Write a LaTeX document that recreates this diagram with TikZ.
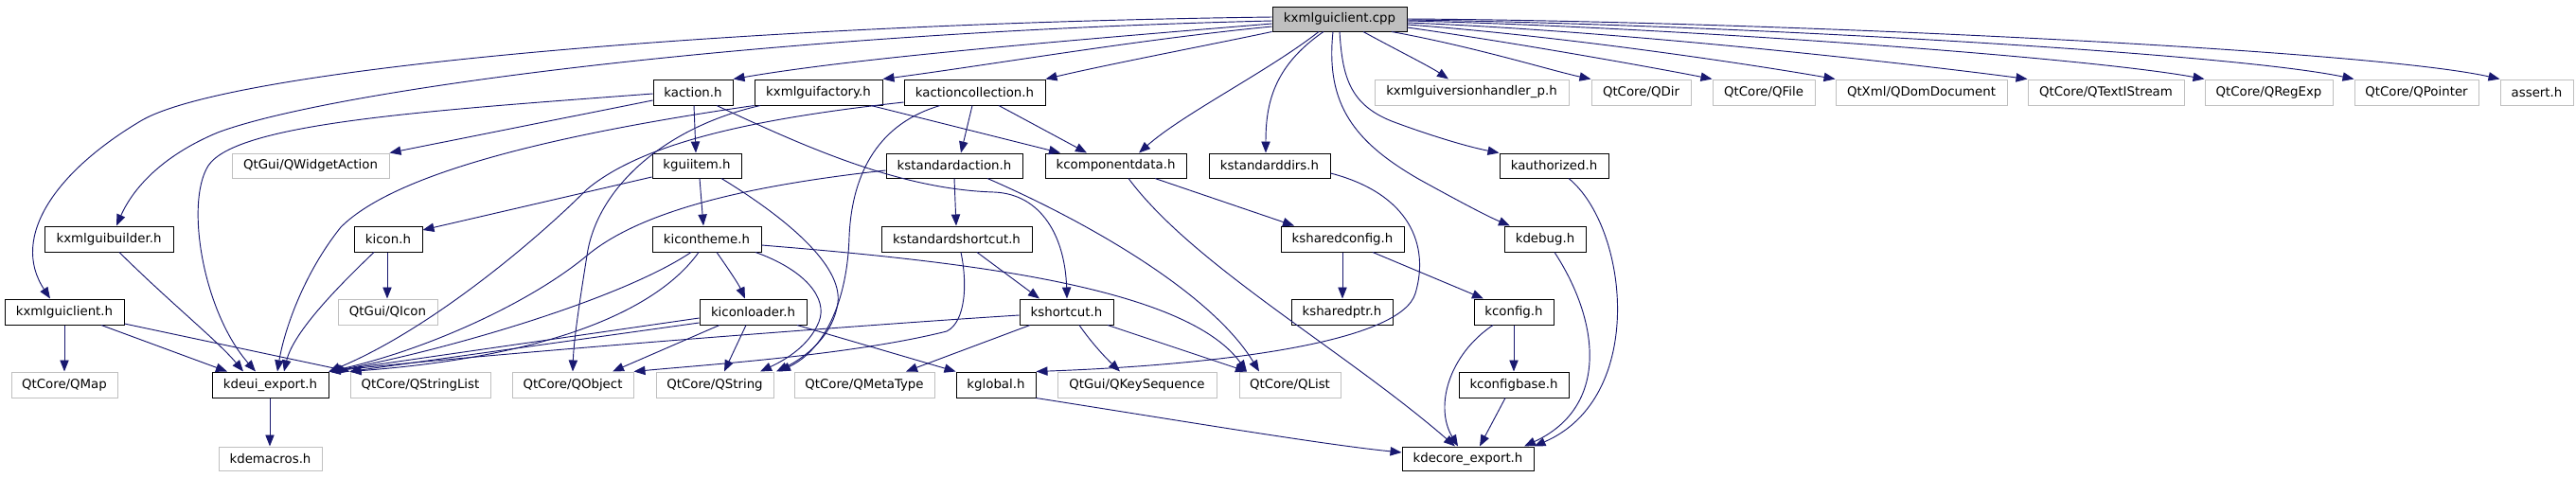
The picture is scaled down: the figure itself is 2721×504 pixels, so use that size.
\documentclass[tikz,border=0pt]{standalone}
\usepackage{fontspec}
\setmainfont{DejaVu Sans}
\usetikzlibrary{arrows.meta,calc}
\definecolor{edgec}{HTML}{191970}
\definecolor{grayb}{HTML}{BFBFBF}
\newcommand\dxbox[7]{%
 \pgfmathsetmacro\dxw{(#5-#3)*0.75}\pgfmathsetmacro\dxh{(#6-#4)*0.75}%
 \node[#1, minimum width=\dxw pt, minimum height=\dxh pt] (#2) at ({(#3+#5)/2},{(#4+#6)/2}) {#7};}
\tikzset{
 box/.style={draw=black, line width=0.75pt, inner sep=0pt, text=black},
 ext/.style={draw=grayb, line width=0.75pt, inner sep=0pt, text=black},
 rootbox/.style={box, fill=grayb},
 edge/.style={draw=edgec, line width=0.7pt, -{Triangle[length=9pt,width=7pt]}}
}
\begin{document}
\begin{tikzpicture}[x=0.75pt,y=-0.75pt,font=\fontsize{10}{12}\selectfont]
\useasboundingbox (0,0) rectangle (2721,504);
% nodes
\dxbox{rootbox}{root}{1344}{7}{1486}{33}{kxmlguiclient.cpp}
\dxbox{box}{kaction}{690}{84}{774}{111}{kaction.h}
\dxbox{box}{kxmlguifactory}{797}{84}{932}{111}{kxmlguifactory.h}
\dxbox{box}{kactioncollection}{955}{84}{1104}{111}{kactioncollection.h}
\dxbox{ext}{kvh}{1452}{84}{1657}{111}{kxmlguiversionhandler\_p.h}
\dxbox{ext}{qdir}{1681}{84}{1786}{111}{QtCore/QDir}
\dxbox{ext}{qfile}{1809}{84}{1917}{111}{QtCore/QFile}
\dxbox{ext}{qdom}{1939}{84}{2120}{111}{QtXml/QDomDocument}
\dxbox{ext}{qtext}{2142}{84}{2307}{111}{QtCore/QTextIStream}
\dxbox{ext}{qregexp}{2329}{84}{2464}{111}{QtCore/QRegExp}
\dxbox{ext}{qpointer}{2487}{84}{2618}{111}{QtCore/QPointer}
\dxbox{ext}{assert}{2641}{84}{2718}{111}{assert.h}
\dxbox{ext}{qwidgetaction}{245}{162}{411}{188}{QtGui/QWidgetAction}
\dxbox{box}{kguiitem}{689}{162}{783}{188}{kguiitem.h}
\dxbox{box}{kstdaction}{936}{162}{1080}{188}{kstandardaction.h}
\dxbox{box}{kcompdata}{1104}{162}{1253}{188}{kcomponentdata.h}
\dxbox{box}{kstddirs}{1277}{162}{1405}{188}{kstandarddirs.h}
\dxbox{box}{kauthorized}{1584}{162}{1699}{188}{kauthorized.h}
\dxbox{box}{kxmlguibuilder}{47}{239}{183}{266}{kxmlguibuilder.h}
\dxbox{box}{kicon}{374}{239}{446}{266}{kicon.h}
\dxbox{box}{kicontheme}{689}{239}{804}{266}{kicontheme.h}
\dxbox{box}{kstdshortcut}{931}{239}{1090}{266}{kstandardshortcut.h}
\dxbox{box}{ksharedconfig}{1353}{239}{1483}{266}{ksharedconfig.h}
\dxbox{box}{kdebug}{1589}{239}{1675}{266}{kdebug.h}
\dxbox{box}{kxmlguiclienth}{5}{316}{131}{343}{kxmlguiclient.h}
\dxbox{ext}{qicon}{357}{316}{462}{343}{QtGui/QIcon}
\dxbox{box}{kiconloader}{739}{316}{852}{343}{kiconloader.h}
\dxbox{box}{kshortcut}{1077}{316}{1176}{343}{kshortcut.h}
\dxbox{box}{ksharedptr}{1364}{316}{1471}{343}{ksharedptr.h}
\dxbox{box}{kconfig}{1557}{316}{1641}{343}{kconfig.h}
\dxbox{ext}{qmap}{12}{393}{124}{420}{QtCore/QMap}
\dxbox{box}{kdeuiexport}{224}{393}{347}{420}{kdeui\_export.h}
\dxbox{ext}{qstringlist}{370}{393}{518}{420}{QtCore/QStringList}
\dxbox{ext}{qobject}{541}{393}{669}{420}{QtCore/QObject}
\dxbox{ext}{qstring}{693}{393}{817}{420}{QtCore/QString}
\dxbox{ext}{qmetatype}{839}{393}{987}{420}{QtCore/QMetaType}
\dxbox{box}{kglobal}{1010}{393}{1094}{420}{kglobal.h}
\dxbox{ext}{qkeyseq}{1117}{393}{1285}{420}{QtGui/QKeySequence}
\dxbox{ext}{qlist}{1309}{393}{1416}{420}{QtCore/QList}
\dxbox{box}{kconfigbase}{1541}{393}{1657}{420}{kconfigbase.h}
\dxbox{ext}{kdemacros}{231}{472}{340}{497}{kdemacros.h}
\dxbox{box}{kdecoreexport}{1481}{472}{1620}{497}{kdecore\_export.h}
% root edges
\draw[edge] (root.west |- 0,18) .. controls (800,25) and (250,70) .. (150,127) .. controls (60,180) and (10,250) .. (kxmlguiclienth.north -| 53,0);
\draw[edge] (root.west |- 0,22) .. controls (800,35) and (350,95) .. (230,140) .. controls (170,165) and (140,200) .. (kxmlguibuilder.north -| 123,0);
\draw[edge] (root.west |- 0,25) .. controls (1100,45) and (900,62) .. (kaction.north east);
\draw[edge] (root.west |- 0,28) .. controls (1200,42) and (1050,68) .. (kxmlguifactory.north east);
\draw[edge] (root.south west) .. controls (1290,45) and (1170,68) .. (kactioncollection.north east);
\draw[edge] (root.south -| 1393,0) .. controls (1340,75) and (1250,120) .. (kcompdata.north -| 1203,0);
\draw[edge] (root.south -| 1398,0) .. controls (1345,70) and (1337,110) .. (kstddirs.north -| 1337,0);
\draw[edge] (root.south -| 1415,0) .. controls (1418,80) and (1425,110) .. (1470,128) .. controls (1510,143) and (1550,155) .. (kauthorized.north west);
\draw[edge] (root.south -| 1408,0) .. controls (1400,110) and (1430,150) .. (1500,190) .. controls (1540,212) and (1570,228) .. (kdebug.north -| 1595,0);
\draw[edge] (root.south -| 1440,0) .. controls (1470,50) and (1510,70) .. (kvh.north -| 1530,0);
\draw[edge] (root.south -| 1470,0) .. controls (1560,50) and (1640,75) .. (qdir.north west);
\draw[edge] (root.east |- 0,29) .. controls (1600,45) and (1750,72) .. (qfile.north west);
\draw[edge] (root.east |- 0,26) .. controls (1650,38) and (1850,68) .. (qdom.north west);
\draw[edge] (root.east |- 0,24) .. controls (1700,32) and (2000,65) .. (qtext.north west);
\draw[edge] (root.east |- 0,22) .. controls (1750,28) and (2200,60) .. (qregexp.north west);
\draw[edge] (root.east |- 0,21) .. controls (1800,25) and (2350,55) .. (qpointer.north west);
\draw[edge] (root.east |- 0,20) .. controls (1850,22) and (2500,52) .. (assert.north west);
% kaction
\draw[edge] (kaction.south -| 733,0) -- (kguiitem.north -| 735,0);
\draw[edge] (kaction.west |- 0,106) -- (qwidgetaction.north east);
\draw[edge] (kaction.west |- 0,99) .. controls (450,117) and (250,130) .. (220,175) .. controls (195,215) and (215,330) .. (kdeuiexport.north -| 270,0);
\draw[edge] (kaction.south -| 757,0) .. controls (850,155) and (950,200) .. (1050,203) .. controls (1100,205) and (1125,250) .. (kshortcut.north -| 1127,0);
% kxmlguifactory
\draw[edge] (kxmlguifactory.south -| 920,0) -- (kcompdata.north -| 1120,0);
\draw[edge] (kxmlguifactory.south -| 803,0) .. controls (700,135) and (630,200) .. (620,270) .. controls (612,320) and (606,360) .. (qobject.north -| 605,0);
\draw[edge] (kxmlguifactory.south west) .. controls (600,140) and (420,180) .. (360,240) .. controls (320,290) and (300,350) .. (kdeuiexport.north -| 293,0);
% kactioncollection
\draw[edge] (kactioncollection.south -| 1027,0) -- (kstdaction.north -| 1015,0);
\draw[edge] (kactioncollection.south -| 1055,0) -- (kcompdata.north -| 1148,0);
\draw[edge] (kactioncollection.west |- 0,108) .. controls (800,125) and (680,150) .. (620,200) .. controls (560,260) and (450,350) .. (kdeuiexport.north east);
\draw[edge] (kactioncollection.south -| 993,0) .. controls (930,130) and (900,180) .. (897,250) .. controls (895,320) and (870,370) .. (qstring.north -| 823,0);
% kstandardaction
\draw[edge] (kstdaction.south -| 1008,0) -- (kstdshortcut.north -| 1010,0);
\draw[edge] (kstdaction.west |- 0,180) .. controls (800,195) and (680,220) .. (620,270) .. controls (560,320) and (450,370) .. (kdeuiexport.north east);
\draw[edge] (kstdaction.south -| 1043,0) .. controls (1150,235) and (1280,310) .. (qlist.north -| 1330,0);
% kcomponentdata
\draw[edge] (kcompdata.south -| 1220,0) -- (ksharedconfig.north -| 1367,0);
\draw[edge] (kcompdata.south -| 1192,0) .. controls (1260,280) and (1420,370) .. (kdecoreexport.north -| 1537,0);
% kstandarddirs
\draw[edge] (kstddirs.east |- 0,183) .. controls (1490,205) and (1510,260) .. (1495,310) .. controls (1480,360) and (1300,385) .. (kglobal.north east);
% ksharedconfig, kconfig
\draw[edge] (ksharedconfig.south -| 1418,0) -- (ksharedptr.north -| 1418,0);
\draw[edge] (ksharedconfig.south -| 1450,0) -- (kconfig.north -| 1567,0);
\draw[edge] (kconfig.south -| 1599,0) -- (kconfigbase.north -| 1599,0);
\draw[edge] (kconfig.south -| 1577,0) .. controls (1530,375) and (1515,430) .. (kdecoreexport.north -| 1540,0);
\draw[edge] (kconfigbase.south -| 1590,0) -- (kdecoreexport.north -| 1563,0);
\draw[edge] (kdebug.south -| 1642,0) .. controls (1690,340) and (1700,430) .. (kdecoreexport.north -| 1610,0);
\draw[edge] (kauthorized.south -| 1657,0) .. controls (1720,240) and (1740,420) .. (kdecoreexport.north east);
\draw[edge] (kglobal.south east) .. controls (1250,445) and (1400,470) .. (kdecoreexport.west |- 0,478);
% kguiitem
\draw[edge] (kguiitem.west |- 0,187) -- (kicon.east |- 0,243);
\draw[edge] (kguiitem.south -| 739,0) -- (kicontheme.north -| 743,0);
\draw[edge] (kguiitem.south -| 762,0) .. controls (830,230) and (890,280) .. (885,320) .. controls (880,355) and (850,378) .. (qstring.north -| 820,0);
% kicon
\draw[edge] (kicon.south -| 409,0) -- (qicon.north -| 409,0);
\draw[edge] (kicon.south -| 395,0) .. controls (360,300) and (310,350) .. (kdeuiexport.north -| 300,0);
% kicontheme
\draw[edge] (kicontheme.south -| 757,0) .. controls (770,285) and (780,300) .. (kiconloader.north -| 787,0);
\draw[edge] (kicontheme.east |- 0,259) .. controls (1000,275) and (1250,300) .. (qlist.north -| 1317,0);
\draw[edge] (kicontheme.south -| 798,0) .. controls (850,285) and (875,315) .. (865,340) .. controls (855,365) and (830,380) .. (qstring.north -| 803,0);
\draw[edge] (kicontheme.south -| 730,0) .. controls (650,320) and (450,375) .. (kdeuiexport.north east);
\draw[edge] (kicontheme.south -| 738,0) .. controls (700,320) and (600,375) .. (qstringlist.north west);
% kiconloader
\draw[edge] (kiconloader.south -| 788,0) -- (qstring.north -| 765,0);
\draw[edge] (kiconloader.south -| 760,0) -- (qobject.north -| 647,0);
\draw[edge] (kiconloader.south -| 842,0) -- (kglobal.north west);
\draw[edge] (kiconloader.west |- 0,336) -- (kdeuiexport.north east);
\draw[edge] (kiconloader.west |- 0,341) -- (qstringlist.north west);
% kshortcut
\draw[edge] (kshortcut.west |- 0,333) .. controls (900,344) and (500,375) .. (kdeuiexport.north east);
\draw[edge] (kshortcut.south -| 1088,0) -- (qmetatype.north -| 957,0);
\draw[edge] (kshortcut.south -| 1140,0) .. controls (1155,365) and (1170,380) .. (qkeyseq.north -| 1183,0);
\draw[edge] (kshortcut.south -| 1170,0) -- (qlist.north -| 1317,0);
% kstandardshortcut
\draw[edge] (kstdshortcut.south -| 1032,0) -- (kshortcut.north -| 1098,0);
\draw[edge] (kstdshortcut.south -| 1015,0) .. controls (1022,300) and (1020,340) .. (1000,350) .. controls (900,375) and (750,385) .. (qobject.north east);
% kxmlguiclient.h
\draw[edge] (kxmlguiclienth.south -| 68,0) -- (qmap.north -| 68,0);
\draw[edge] (kxmlguiclienth.south -| 107,0) -- (kdeuiexport.north -| 240,0);
\draw[edge] (kxmlguiclienth.east |- 0,342) -- (qstringlist.north west);
% kxmlguibuilder
\draw[edge] (kxmlguibuilder.south -| 126,0) .. controls (180,320) and (230,360) .. (kdeuiexport.north -| 257,0);
% kdeui_export
\draw[edge] (kdeuiexport.south -| 285,0) -- (kdemacros.north -| 285,0);
\end{tikzpicture}
\end{document}
